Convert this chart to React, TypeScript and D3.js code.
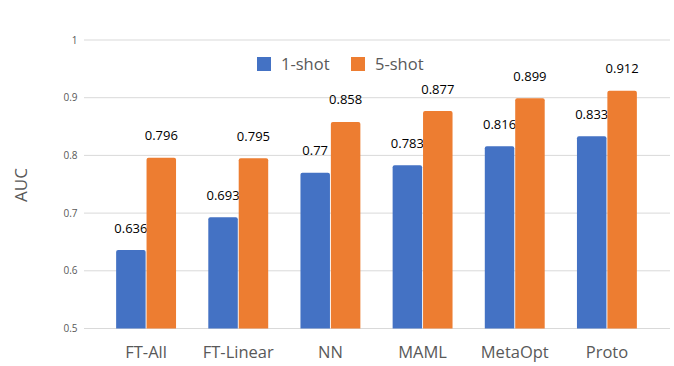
import React from 'react';
import * as d3 from 'd3';

const categories = ['FT-All', 'FT-Linear', 'NN', 'MAML', 'MetaOpt', 'Proto'];
const series = ['1-shot', '5-shot'];
const oneShot = [0.636, 0.693, 0.77, 0.783, 0.816, 0.833];
const fiveShot = [0.796, 0.795, 0.858, 0.877, 0.899, 0.912];
const yTicks = [0.5, 0.6, 0.7, 0.8, 0.9, 1];
const tickLabels = ['0.5', '0.6', '0.7', '0.8', '0.9', '1'];
const valueLabels = [
  ['0.636', '0.693', '0.77', '0.783', '0.816', '0.833'],
  ['0.796', '0.795', '0.858', '0.877', '0.899', '0.912'],
];

const colors = ['#4472C4', '#ED7D31'];
const font = '"Open Sans", sans-serif';

const W = 674;
const H = 366;

// rounded top corners only
function barPath(x: number, y: number, w: number, h: number, r: number) {
  return `M${x},${y + h}V${y + r}Q${x},${y} ${x + r},${y}H${x + w - r}Q${x + w},${y} ${x + w},${y + r}V${y + h}Z`;
}

export default function App() {
  const gridLeft = 84;
  const gridRight = 670;

  const y = d3.scaleLinear().domain([0.5, 1]).range([328.5, 40]);

  const x0 = d3.scaleBand<string>()
    .domain(categories)
    .range([100, 653])
    .paddingInner(0.35)
    .paddingOuter(0.175);

  const x1 = d3.scaleBand<string>()
    .domain(series)
    .range([0, x0.bandwidth()])
    .paddingInner(0.03);

  const values = [oneShot, fiveShot];

  return (
    <svg width={W} height={H} style={{ position: 'absolute', left: 0, top: 0, background: '#fff' }}>
      {/* gridlines + tick labels */}
      {yTicks.map((t, i) => (
        <g key={t}>
          <line x1={gridLeft} x2={gridRight} y1={y(t)} y2={y(t)} stroke="#D9D9D9" strokeWidth={1} />
          <text x={77.5} y={y(t)} dy="0.35em" textAnchor="end" fontFamily={font} fontSize={10} fill="#595959">
            {tickLabels[i]}
          </text>
        </g>
      ))}

      {/* bars */}
      {categories.map((c, ci) => (
        <g key={c} transform={`translate(${x0(c)},0)`}>
          {series.map((s, si) => {
            const v = values[si][ci];
            const bx = x1(s)!;
            const by = y(v);
            return (
              <g key={s}>
                <path d={barPath(bx, by, x1.bandwidth(), y(0.5) - by, 2)} fill={colors[si]} />
                <text
                  x={bx + x1.bandwidth() / 2}
                  y={by - 22}
                  dy="0.35em"
                  textAnchor="middle"
                  fontFamily={font}
                  fontSize={13}
                  fill="#000"
                >
                  {valueLabels[si][ci]}
                </text>
              </g>
            );
          })}
          <text
            x={x0.bandwidth() / 2}
            y={358}
            textAnchor="middle"
            fontFamily={font}
            fontSize={16.5}
            fill="#595959"
          >
            {c}
          </text>
        </g>
      ))}

      {/* axis title */}
      <text
        transform={`translate(21,185) rotate(-90)`}
        textAnchor="middle"
        dy="0.35em"
        fontFamily={font}
        fontSize={17}
        fill="#595959"
      >
        AUC
      </text>

      {/* legend */}
      {series.map((s, i) => {
        const lx = [257, 351][i];
        return (
          <g key={s}>
            <rect x={lx} y={57} width={14} height={14} fill={colors[i]} />
            <text x={lx + 24} y={64} dy="0.35em" fontFamily={font} fontSize={16.5} fill="#595959">
              {s}
            </text>
          </g>
        );
      })}
    </svg>
  );
}
